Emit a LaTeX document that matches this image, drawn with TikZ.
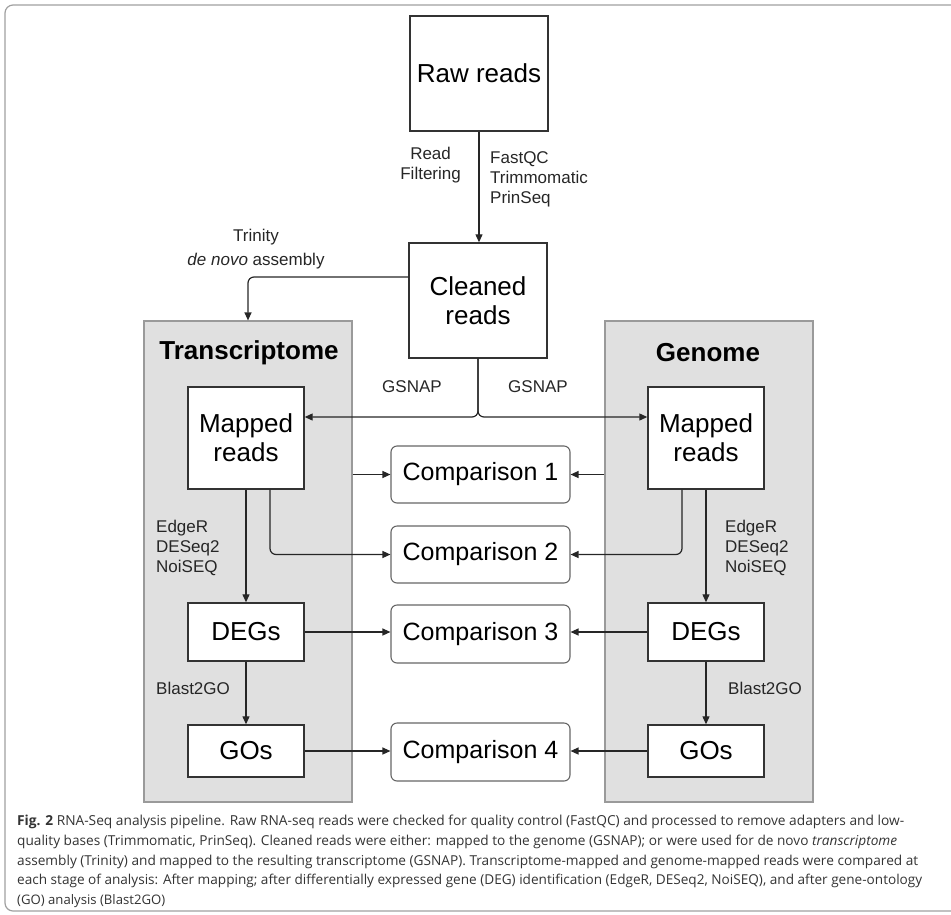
\documentclass[tikz,border=0pt]{standalone}
\usepackage{graphicx}
\usepackage{fontspec}
\setmainfont{Liberation Sans}
\newfontfamily\capfont{Open Sans}
\usetikzlibrary{arrows.meta}
\definecolor{boxline}{HTML}{333333}
\definecolor{panel}{HTML}{E0E0E0}
\definecolor{panelline}{HTML}{9A9A9A}
\definecolor{frameline}{HTML}{A0A0A0}
\definecolor{cmpline}{HTML}{666666}
\definecolor{capcol}{HTML}{333333}
\begin{document}
\begin{tikzpicture}[x=1pt,y=-1pt,
 box/.style={draw=boxline, line width=1.4pt, fill=white, inner sep=0pt, font=\fontsize{26}{29}\selectfont, align=center},
 cmp/.style={draw=cmpline, line width=1.1pt, fill=white, rounded corners=6pt, minimum width=179pt, inner sep=0pt, font=\fontsize{25}{29}\selectfont},
 panelbox/.style={draw=panelline, line width=1.2pt, fill=panel, minimum width=208pt, minimum height=481pt, inner sep=0pt},
 lbl/.style={font=\fontsize{17}{20}\selectfont, inner sep=0pt, text=black!85},
 arr/.style={draw=black!85, line width=1.2pt, -{Triangle[length=8pt,width=7pt]}},
 capline/.style={inner sep=0pt, anchor=west, text=capcol, font=\capfont\fontsize{12.7}{15}\selectfont}
]
\clip (0,0) rectangle (951,914);
\draw[frameline, line width=1.2pt, rounded corners=8pt] (5,5) rectangle (965,911);

% panels
\node[panelbox] (trans) at (248,561.5) {};
\node[panelbox] (gen) at (709,561.5) {};
\node[font=\bfseries\fontsize{26}{30}\selectfont, inner sep=0pt] (tlab) at (249,353) {Transcriptome};
\node[font=\bfseries\fontsize{26}{30}\selectfont, inner sep=0pt] (glab) at (708,353) {Genome};

% main boxes
\node[box, minimum width=138pt, minimum height=115pt] (raw) at (479,73.5) {Raw reads};
\node[box, minimum width=138pt, minimum height=115pt] (clean) at (478,300.5) {Cleaned\\reads};
\node[box, minimum width=116pt, minimum height=102pt] (mapL) at (246,438) {Mapped\\reads};
\node[box, minimum width=116pt, minimum height=102pt] (mapR) at (706,438) {Mapped\\reads};
\node[box, minimum width=116pt, minimum height=58pt] (degL) at (246,632) {DEGs};
\node[box, minimum width=116pt, minimum height=58pt] (degR) at (706,632) {DEGs};
\node[box, minimum width=116pt, minimum height=52pt] (goL) at (246,751) {GOs};
\node[box, minimum width=116pt, minimum height=52pt] (goR) at (706,751) {GOs};

% comparison boxes
\node[cmp, minimum height=57pt] (comp1) at (480.5,474.5) {Comparison 1};
\node[cmp, minimum height=57pt] (comp2) at (480.5,554.5) {Comparison 2};
\node[cmp, minimum height=58pt] (comp3) at (480.5,634) {Comparison 3};
\node[cmp, minimum height=58pt] (comp4) at (480.5,752) {Comparison 4};

% labels
\node[lbl, align=center, anchor=east] (rf) at (461,165) {Read\\Filtering};
\node[lbl, align=left, anchor=west] (fq) at (490,179) {FastQC\\Trimmomatic\\PrinSeq};
\node[lbl, align=center, font=\fontsize{17}{24}\selectfont] (trin) at (256,249) {Trinity\\\textit{de novo} assembly};
\node[lbl] (gs1) at (412,387) {GSNAP};
\node[lbl] (gs2) at (538,387) {GSNAP};
\node[lbl, align=left, anchor=west] (deL) at (156,548) {EdgeR\\DESeq2\\NoiSEQ};
\node[lbl, align=left, anchor=west] (deR) at (725,548) {EdgeR\\DESeq2\\NoiSEQ};
\node[lbl, anchor=west] (bL) at (156,688) {Blast2GO};
\node[lbl, anchor=west] (bR) at (728,688) {Blast2GO};

% connectors
\draw[arr] (raw.south) -- (raw.south |- clean.north);
\draw[arr, rounded corners=6pt] ([yshift=23.5pt]clean.west) -| (trans.north);
\draw[arr, rounded corners=6pt] (clean.south) |- ([yshift=21pt]mapL.east);
\draw[arr, rounded corners=6pt] (clean.south) |- ([yshift=21pt]mapR.west);
\draw[arr] (trans.east |- comp1.west) -- (comp1.west);
\draw[arr] (gen.west |- comp1.east) -- (comp1.east);
\draw[arr, rounded corners=6pt] ([xshift=24pt]mapL.south) |- (comp2.west);
\draw[arr, rounded corners=6pt] ([xshift=-24pt]mapR.south) |- (comp2.east);
\draw[arr] (degL.east) -- (degL.east -| comp3.west);
\draw[arr] (degR.west) -- (degR.west -| comp3.east);
\draw[arr] (goL.east) -- (goL.east -| comp4.west);
\draw[arr] (goR.west) -- (goR.west -| comp4.east);
\draw[arr] (mapL) -- (degL);
\draw[arr] (degL) -- (goL);
\draw[arr] (mapR) -- (degR);
\draw[arr] (degR) -- (goR);

% caption
\node[capline] (cap1) at (17,822) {\resizebox{887pt}{!}{\textbf{Fig. 2} RNA-Seq analysis pipeline. Raw RNA-seq reads were checked for quality control (FastQC) and processed to remove adapters and low-}};
\node[capline] (cap2) at (17,842) {\resizebox{880pt}{!}{quality bases (Trimmomatic, PrinSeq). Cleaned reads were either: mapped to the genome (GSNAP); or were used for de novo \textit{transcriptome}}};
\node[capline] (cap3) at (17,862) {\resizebox{901pt}{!}{assembly (Trinity) and mapped to the resulting transcriptome (GSNAP). Transcriptome-mapped and genome-mapped reads were compared at}};
\node[capline] (cap4) at (17,881) {\resizebox{905pt}{!}{each stage of analysis: After mapping; after differentially expressed gene (DEG) identification (EdgeR, DESeq2, NoiSEQ), and after gene-ontology}};
\node[capline] (cap5) at (17,901) {\resizebox{148pt}{!}{(GO) analysis (Blast2GO)}};
\end{tikzpicture}
\end{document}
